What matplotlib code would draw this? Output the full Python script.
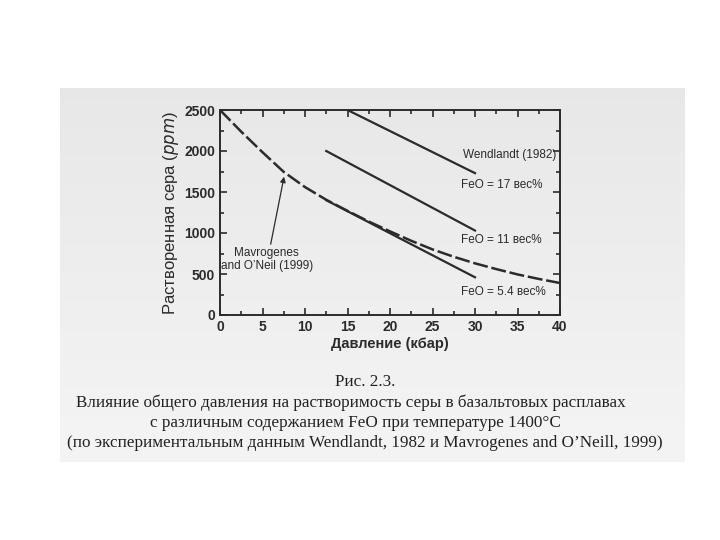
import matplotlib.pyplot as plt
import numpy as np

# Mavrogenes and O'Neill (1999), dashed curve
mav_p = [0, 2.5, 5, 7.5, 10, 12.5, 15, 17.5, 20, 22.5, 25, 27.5, 30, 32.5, 35, 37.5, 40]
mav_s = [2500, 2235, 1985, 1745, 1560, 1405, 1270, 1140, 1020, 905, 800, 710, 630, 560, 495, 440, 390]

# Wendlandt (1982), straight lines
feo17_p = [15, 30]
feo17_s = [2500, 1730]
feo11_p = [12.5, 30]
feo11_s = [2000, 1030]
feo54_p = [12.5, 30]
feo54_s = [1400, 460]

plt.rcParams['font.family'] = ['Liberation Sans', 'DejaVu Sans']
ink = '#2b2b2b'

fig = plt.figure(figsize=(7.2, 5.4), dpi=100)

# scanned page background
bg = fig.add_axes([60 / 720, (540 - 462) / 540, 625 / 720, 374 / 540], zorder=-1)
grad = np.linspace(0.905, 0.955, 100).reshape(-1, 1)
bg.imshow(grad, cmap='gray', vmin=0, vmax=1, aspect='auto', extent=[0, 1, 0, 1])
bg.set_axis_off()

ax = fig.add_axes([220 / 720, 225 / 540, 340 / 720, 205 / 540])
ax.patch.set_alpha(0)
ax.plot(mav_p, mav_s, color=ink, lw=1.8, dashes=(6, 1.5))
ax.plot(feo17_p, feo17_s, color=ink, lw=1.6)
ax.plot(feo11_p, feo11_s, color=ink, lw=1.6)
ax.plot(feo54_p, feo54_s, color=ink, lw=1.6)

ax.set_xlim(0, 40)
ax.set_ylim(0, 2500)
ax.set_xticks(range(0, 41, 5))
ax.set_xticks(np.arange(2.5, 40, 5), minor=True)
ax.set_yticks(range(0, 2501, 500))
ax.set_yticks(range(250, 2500, 500), minor=True)
ax.tick_params(which='both', direction='in', top=True, right=True, colors=ink,
               labelsize=10, width=1.2)
ax.tick_params(which='major', length=5)
ax.tick_params(which='minor', length=3)
for lbl in ax.get_xticklabels() + ax.get_yticklabels():
    lbl.set_fontweight('bold')
for s in ax.spines.values():
    s.set_linewidth(1.4)
    s.set_color(ink)

ax.set_xlabel('Давление (кбар)', fontsize=10.5, fontweight='bold', color=ink, labelpad=2)
ax.set_ylabel('Растворенная сера ($\\it{ppm}$)', fontsize=12, color=ink, labelpad=2)

ax.text(28.6, 1950, 'Wendlandt (1982)', fontsize=8.5, color=ink, va='center')
ax.text(28.3, 1590, 'FeO = 17 вес%', fontsize=8.5, color=ink, va='center')
ax.text(28.3, 915, 'FeO = 11 вес%', fontsize=8.5, color=ink, va='center')
ax.text(28.4, 280, 'FeO = 5.4 вес%', fontsize=8.5, color=ink, va='center')
ax.text(5.5, 680, 'Mavrogenes\nand O\u2019Neil (1999)', fontsize=8.5, color=ink,
        ha='center', va='center', linespacing=1.1)
ax.annotate('', xy=(7.6, 1720), xytext=(5.9, 830),
            arrowprops=dict(arrowstyle='-|>', color=ink, lw=0.9, mutation_scale=8))

serif = ['Liberation Serif', 'DejaVu Serif']
fig.text(365 / 720, 1 - 382 / 540, 'Рис. 2.3.', family=serif, fontsize=12.3,
         ha='center', va='center', color='#222222')
fig.text(351 / 720, 1 - 403 / 540,
         'Влияние общего давления на растворимость серы в базальтовых расплавах',
         family=serif, fontsize=12.3, ha='center', va='center', color='#222222')
fig.text(355 / 720, 1 - 423 / 540,
         'с различным содержанием FeO при температуре 1400°C',
         family=serif, fontsize=12.3, ha='center', va='center', color='#222222')
fig.text(365 / 720, 1 - 443 / 540,
         '(по экспериментальным данным Wendlandt, 1982 и Mavrogenes and O\u2019Neill, 1999)',
         family=serif, fontsize=12.3, ha='center', va='center', color='#222222')

plt.savefig('out.png', dpi=100)
